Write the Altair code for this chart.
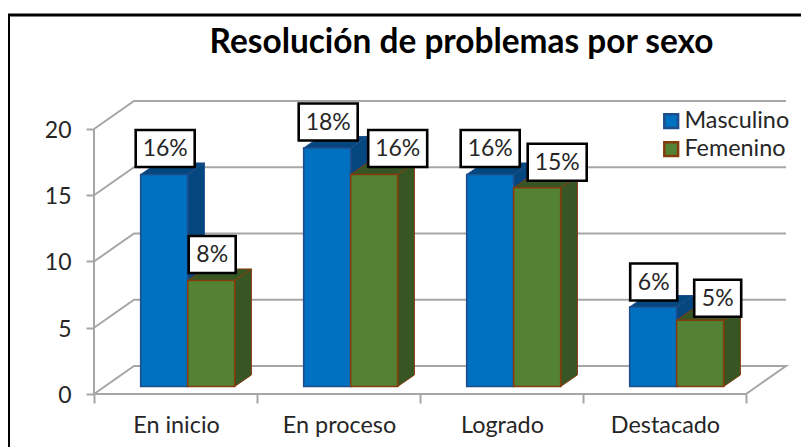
import altair as alt
import pandas as pd

categories = ["En inicio", "En proceso", "Logrado", "Destacado"]
series = ["Masculino", "Femenino"]
masculino = [16, 18, 16, 6]
femenino = [8, 16, 15, 5]
y_ticks = [0, 5, 10, 15, 20]
x_ticks = [0, 1, 2, 3, 4]
chart_title = "Resolución de problemas por sexo"

FONT = "Lato"
W, H = 793, 439
X_DOM = [-0.5276, 4.3374]
Y_DOM = [-4.0, 29.13]
PX_U, PX_V = 163.0, 13.25

WALL_DX, WALL_DY = 40 / PX_U, 28 / PX_V
BAR_DX, BAR_DY = 16.7 / PX_U, 11.5 / PX_V
BASE = 0.566
BAR_W = 47 / PX_U
BAR_START = 46.7 / PX_U
FILL = {"Masculino": "#0070c0", "Femenino": "#548235"}
DARK = {"Masculino": "#04477f", "Femenino": "#375623"}
EDGE = {"Masculino": "#1f4e8c", "Femenino": "#843c0c"}
# horizontal and vertical shift of the label boxes, in pixels
NUDGE = {"Masculino": [(1, 0), (1, 0), (0, 0), (0.5, 1)],
         "Femenino": [(1, 0), (23.5, 0), (20, 0.5), (17.5, 4)]}

xs = alt.Scale(domain=X_DOM, nice=False, zero=False)
ys = alt.Scale(domain=Y_DOM, nice=False, zero=False)
x_axis = alt.Axis(values=x_ticks, labels=False, domain=False, grid=False, tickColor="#a6a6a6", tickWidth=2,
                  tickSize=9, offset=-53, title=None)
y_axis = alt.Axis(values=y_ticks, domain=False, grid=False, tickColor="#a6a6a6", tickWidth=2, tickSize=8,
                  offset=-86, labelPadding=15, labelFont=FONT, labelFontSize=23, labelColor="#262626",
                  labelOffset=1.5, format="d", title=None)
X = lambda f="x": alt.X(f"{f}:Q", scale=xs, axis=x_axis)
Y = lambda f="y": alt.Y(f"{f}:Q", scale=ys, axis=y_axis)

# walls
wall = []
n = len(categories)
for v in y_ticks:
    pts = [(0, v), (WALL_DX, v + WALL_DY), (n + WALL_DX, v + WALL_DY)]
    if v == 0:
        pts += [(n, 0), (0, 0)]
    for i, (a, b) in enumerate(pts):
        wall.append({"line": f"g{v}", "i": i, "x": a, "y": b})
wall += [{"line": "axis", "i": 0, "x": 0, "y": 0}, {"line": "axis", "i": 1, "x": 0, "y": y_ticks[-1]}]
walls = alt.Chart(pd.DataFrame(wall)).mark_line(color="#a6a6a6", strokeWidth=2).encode(
    x=X(), y=Y(), detail="line:N", order="i:Q")

front, side, top, boxes = [], [], [], []
for s_i, (s, vals) in enumerate(zip(series, [masculino, femenino])):
    for c_i, (c, v) in enumerate(zip(categories, vals)):
        x0 = c_i + BAR_START + s_i * BAR_W
        x1 = x0 + BAR_W
        t = v + BASE
        bid = f"{s}{c_i}"
        front.append({"s": s, "x": x0, "x2": x1, "y": BASE, "y2": t})
        side += [{"s": s, "b": bid, "x": x1, "y": BASE, "y2": t},
                 {"s": s, "b": bid, "x": x1 + BAR_DX, "y": BASE + BAR_DY, "y2": t + BAR_DY}]
        top += [{"s": s, "b": bid, "x": x0, "x2": x1, "y": t},
                {"s": s, "b": bid, "x": x0 + BAR_DX, "x2": x1 + BAR_DX, "y": t + BAR_DY}]
        nx, ny = NUDGE[s][c_i]
        half_w = (29.5 if v >= 10 else 23.5) / PX_U
        cx = (x0 + x1) / 2 + nx / PX_U
        cy = t + (26 - ny) / PX_V
        boxes.append({"x": cx - half_w, "x2": cx + half_w, "y": cy - 18.5 / PX_V, "y2": cy + 18.5 / PX_V,
                      "cx": cx, "cy": cy, "t": f"{v}%"})

front_df, side_df, top_df, box_df = map(pd.DataFrame, [front, side, top, boxes])

layers = [walls]
for s in series:
    layers.append(alt.Chart(side_df[side_df.s == s]).mark_area(color=DARK[s], stroke=EDGE[s], strokeWidth=1, opacity=1).encode(
        x=X(), y=Y(), y2="y2:Q", detail="b:N"))
for s in series:
    layers.append(alt.Chart(top_df[top_df.s == s]).mark_area(orient="horizontal", color=DARK[s], stroke=EDGE[s], strokeWidth=1, opacity=1).encode(
        y=Y(), x=X(), x2="x2:Q", detail="b:N"))

legend = alt.Legend(orient="none", legendX=651.5, legendY=101.5, title=None, symbolType="square", symbolSize=190,
                    symbolStrokeWidth=2.5, labelFont=FONT, labelFontSize=23.4, labelColor="#262626", symbolOpacity=1,
                    rowPadding=3, labelOffset=1.5)
bars = alt.Chart(front_df).mark_rect(strokeWidth=1.6).encode(
    x=X(), x2="x2:Q", y=Y(), y2="y2:Q",
    fill=alt.Fill("s:N", scale=alt.Scale(domain=series, range=[FILL[s] for s in series]), legend=legend),
    stroke=alt.Stroke("s:N", scale=alt.Scale(domain=series, range=[EDGE[s] for s in series]), legend=legend),
)
layers.append(bars)

layers.append(alt.Chart(box_df).mark_rect(fill="white", stroke="black", strokeWidth=2.6).encode(
    x=X(), x2="x2:Q", y=Y(), y2="y2:Q"))
layers.append(alt.Chart(box_df).mark_text(font=FONT, fontSize=23, color="#262626", baseline="middle", align="center", yOffset=1).encode(
    x=X("cx"), y=Y("cy"), text="t:N"))

cat_df = pd.DataFrame({"x": [i + 0.5 for i in range(n)], "y": [0] * n, "t": categories})
layers.append(alt.Chart(cat_df).mark_text(font=FONT, fontSize=23.4, color="#262626", baseline="alphabetic", align="center", yOffset=39, dx=1).encode(
    x=X(), y=Y(), text="t:N"))

frame = alt.Chart(pd.DataFrame({"a": [0]})).mark_rect(fill="transparent", stroke="black", strokeWidth=3).encode(
    x=alt.value(0.5), x2=alt.value(900), y=alt.value(7), y2=alt.value(900))
layers.append(frame)

title_df = pd.DataFrame({"t": [chart_title]})
layers.append(alt.Chart(title_df).mark_text(font=FONT, fontSize=33.4, fontWeight="bold", color="black", baseline="alphabetic", align="center").encode(
    x=alt.value(453.5), y=alt.value(45), text="t:N"))

chart = alt.layer(*layers).properties(
    width=W, height=H, padding=0, autosize=alt.AutoSizeParams(type="none"),
).configure_view(stroke=None)

chart.save("out.html", embed_options={"renderer": "svg", "actions": False})
